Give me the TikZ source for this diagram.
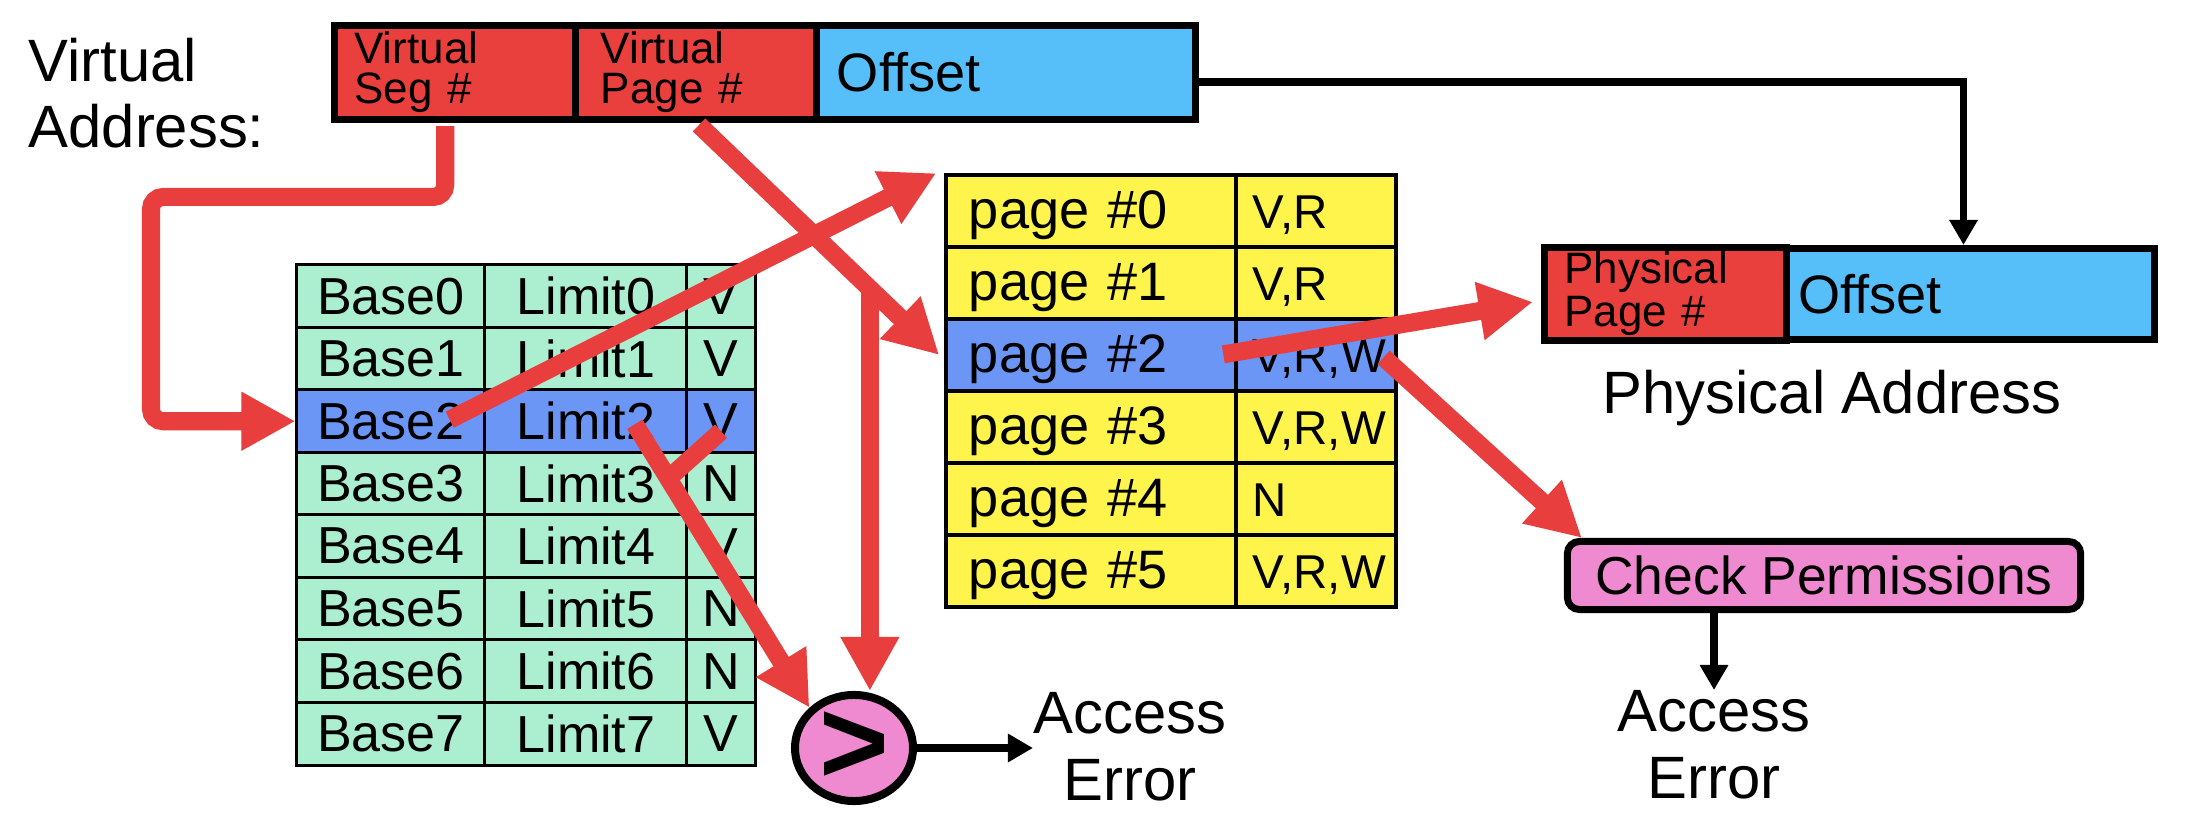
\documentclass[tikz,border=0pt]{standalone}
\usepackage{fontspec}
\setmainfont{Liberation Sans}
\usetikzlibrary{arrows.meta,calc,shapes.geometric}
\definecolor{cellred}{RGB}{233,64,61}
\definecolor{offblue}{RGB}{86,190,248}
\definecolor{segmint}{RGB}{172,238,208}
\definecolor{rowblue}{RGB}{108,150,245}
\definecolor{pgyellow}{RGB}{255,244,75}
\definecolor{boxpink}{RGB}{240,138,208}
\definecolor{arrowred}{RGB}{232,62,62}
\tikzset{
  field/.style={draw, line width=0.07cm, minimum height=0.935cm, inner xsep=0.2cm, inner ysep=0.05cm, align=left, font=\fontsize{12.5}{11.5}\selectfont},
  segcell/.style={draw, line width=0.03cm, minimum height=0.625cm, inner sep=0.1cm, font=\fontsize{14.8}{16}\selectfont},
  pgcell/.style={draw, line width=0.035cm, minimum height=0.72cm, inner xsep=0.23cm, inner ysep=0.02cm, text height=1.08em, text depth=0.1em, align=left},
  redline/.style={draw=arrowred, line width=0.18cm},
  redarrow/.style={redline, shorten <=0.035cm, -{Triangle[length=0.54cm,width=0.55cm]}},
  blkarrow/.style={line width=0.075cm, -{Triangle[length=0.25cm,width=0.27cm]}},
  biglabel/.style={inner sep=0pt, align=center, font=\fontsize{17}{19}\selectfont}
}
\begin{document}
\begin{tikzpicture}[x=0.01cm, y=-0.01cm]
\useasboundingbox[fill=white] (0,0) rectangle (2188,834);

\node[biglabel, align=left, anchor=north west](vlabel) at (28,37){Virtual\\Address:};
\node[field, fill=cellred, minimum width=2.415cm, text width=2.015cm](vseg) at (455.25,72.25){Virtual\\Seg \#};
\node[field, fill=cellred, minimum width=2.41cm, inner xsep=0.25cm, text width=1.91cm](vpage) at (696.5,72.25){Virtual\\Page \#};
\node[field, fill=offblue, minimum width=3.78cm, text width=3.38cm, font=\fontsize{15.4}{17}\selectfont](voff) at (1006,72.25){Offset};

\foreach \i/\f/\c in {0/V/segmint,1/V/segmint,2/V/rowblue,3/N/segmint,4/V/segmint,5/N/segmint,6/N/segmint,7/V/segmint}{
  \node[segcell, fill=\c, minimum width=1.88cm](base\i) at (391,{296.25+62.5*\i}){Base\i};
  \node[segcell, fill=\c, minimum width=2.02cm](lim\i) at (586,{296.25+62.5*\i}){Limit\i};
  \node[segcell, fill=\c, minimum width=0.68cm](val\i) at (721,{296.25+62.5*\i}){\f};
}

\foreach \i/\f/\c in {0/{V,R}/pgyellow,1/{V,R}/pgyellow,2/{V,R,W}/rowblue,3/{V,R,W}/pgyellow,4/N/pgyellow,5/{V,R,W}/pgyellow}{
  \node[pgcell, fill=\c, text width=2.44cm, font=\fontsize{15.4}{16}\selectfont](pg\i) at (1091,{211+72*\i}){page \#\i};
  \node[pgcell, fill=\c, inner xsep=0.17cm, text width=1.26cm, font=\fontsize{13.5}{15}\selectfont](pf\i) at (1316,{211+72*\i}){\f};
}

\node[field, fill=cellred, minimum width=2.42cm, minimum height=0.91cm, text width=2.02cm, font=\fontsize{12.5}{10}\selectfont](ppage) at (1665.5,294){Physical\\Page \#};
\node[field, fill=offblue, minimum width=3.68cm, minimum height=0.91cm, inner xsep=0.12cm, text width=3.44cm, font=\fontsize{15.4}{17}\selectfont](poff) at (1970.5,294){Offset};
\node[biglabel, anchor=base](paddr) at (1832,414){Physical Address};

\node[draw, line width=0.07cm, fill=boxpink, rounded corners=0.12cm, minimum width=5.13cm, minimum height=0.68cm, font=\fontsize{15.2}{16}\selectfont](chk) at (1824,575.5){Check Permissions};
\node[biglabel, anchor=north](err2) at (1714,690){Access\\Error};

\node[ellipse, draw, line width=0.08cm, fill=boxpink, minimum width=1.18cm, minimum height=1.06cm, inner sep=-0.3cm, font=\fontsize{34}{36}\selectfont\bfseries](cmp) at (854,748){>};
\node[biglabel, anchor=north](err1) at (1130,692){Access\\Error};

\draw[blkarrow] ([yshift=-0.1cm]voff.east) -| ([xshift=-0.07cm]poff.north);
\draw[blkarrow] (cmp.east) -- (cmp.east -| err1.west);
\draw[blkarrow] (chk.south -| err2.north) -- (err2.north);

\coordinate (segbend) at (151,197);
\draw[redarrow, rounded corners=0.12cm] ([xshift=-0.1cm]vseg.south) |- (segbend) |- (base2.west);
\draw[redarrow] ([xshift=-0.4cm]base2.east) -- ([xshift=-0.08cm]pg0.north west);
\draw[redarrow] (vpage.south) -- ([xshift=-0.05cm]pg2.west);
\coordinate (pgtap) at ($(vpage.south)!0.7!(pg2.west)$);
\draw[redarrow] (pgtap) -- (pgtap |- cmp.north);
\coordinate (limstart) at ([xshift=0.47cm]lim2.center);
\draw[redarrow] (limstart) -- (cmp.north west);
\coordinate (tjoin) at ($(limstart)!0.2!(cmp.north west)$);
\draw[redline] ([yshift=-0.1cm]val2.center) -- (tjoin);
\draw[redarrow] ([xshift=-0.18cm]pg2.east) -- ([xshift=-0.08cm,yshift=-0.08cm]ppage.west);
\draw[redarrow] ([xshift=0.65cm]pf2.center) -- ([xshift=0.18cm]chk.north west);

\end{tikzpicture}
\end{document}
